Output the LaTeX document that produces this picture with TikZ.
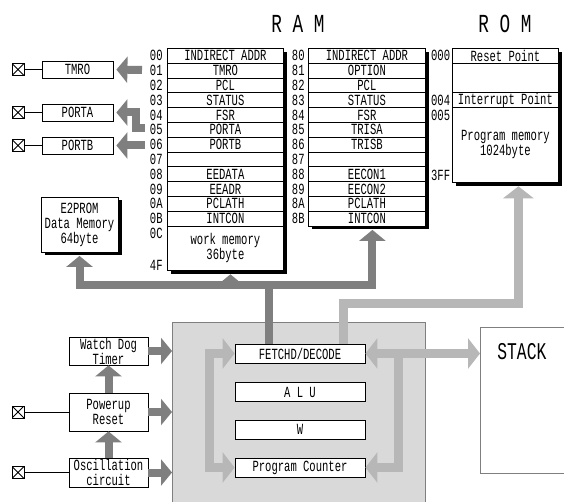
\documentclass[tikz,border=0pt]{standalone}
\usepackage{fontspec}
\setmainfont{Liberation Mono}[FakeStretch=0.68]
\usetikzlibrary{arrows.meta,positioning,shadows}
\definecolor{busgray}{HTML}{7F7F7F}
\definecolor{romgray}{HTML}{B7B7B7}
\definecolor{cpugray}{HTML}{D9D9D9}
\newcommand\regfont{\fontsize{15.5}{15}\selectfont}
\newcommand\titlefont{\fontsize{26}{28}\selectfont}

\begin{document}
\begin{tikzpicture}[
  x=1pt, y=-1pt, line width=0.8pt,
  every node/.style={font=\regfont, inner sep=0pt},
  regrow/.style={draw, fill=white, minimum width=116pt, minimum height=14.8pt, anchor=north west},
  memframe/.style={draw, fill=white, anchor=north west,
    drop shadow={shadow xshift=3.5pt, shadow yshift=-3.5pt, opacity=1, fill=black}},
  adr/.style={anchor=east},
  iobox/.style={draw, fill=white, minimum width=71pt, minimum height=17pt},
  extpin/.style={draw, fill=white, minimum size=12pt,
    path picture={\draw (path picture bounding box.north west) -- (path picture bounding box.south east)
      (path picture bounding box.south west) -- (path picture bounding box.north east);}},
  cpubox/.style={draw, fill=white, minimum width=130pt, minimum height=19pt},
  sidebox/.style={draw, fill=white, minimum width=79pt, align=center},
  dline/.style={draw=busgray, line width=8pt},
  darrow/.style={dline, -{Triangle[width=26pt,length=11pt]}},
  lline/.style={draw=romgray, line width=9pt},
  larrow/.style={lline, -{Triangle[width=30pt,length=12pt]}},
  lboth/.style={lline, {Triangle[width=30pt,length=12pt]}-{Triangle[width=30pt,length=12pt]}}
]
\useasboundingbox[fill=white] (0,0) rectangle (564,502);
\clip (0,0) rectangle (564,502);

\node[font=\titlefont] (ramtitle) at (298,24) {R A M};
\node[font=\titlefont] (romtitle) at (505,24) {R O M};

\node[memframe, minimum width=116pt, minimum height=222pt] (ramA) at (167,48) {};
\foreach \adr/\reg [count=\i from 0] in {00/INDIRECT ADDR,01/TMRO,02/PCL,03/STATUS,04/FSR,05/PORTA,06/PORTB,07/{},08/EEDATA,09/EEADR,0A/PCLATH,0B/INTCON}
{
  \node[regrow] (ramA\i) at (167,{48+14.8*\i}) {\reg};
  \node[adr] (adrA\i) at ([xshift=-4pt]ramA\i.west) {\adr};
}
\node[regrow, minimum height=44.4pt, align=center] (workmem) at (167,225.6) {work memory\\36byte};
\node[adr] (adrA12) at (163,233) {0C};
\node[adr] (adrA13) at (163,265) {4F};

\node[memframe, minimum width=117pt, minimum height=177.6pt] (ramB) at (308,48) {};
\foreach \adr/\reg [count=\i from 0] in {80/INDIRECT ADDR,81/OPTION,82/PCL,83/STATUS,84/FSR,85/TRISA,86/TRISB,87/{},88/EECON1,89/EECON2,8A/PCLATH,8B/INTCON}
{
  \node[regrow, minimum width=117pt] (ramB\i) at (308,{48+14.8*\i}) {\reg};
  \node[adr] (adrB\i) at ([xshift=-3pt]ramB\i.west) {\adr};
}

\node[memframe, minimum width=106pt, minimum height=134pt] (rom) at (452,48) {};
\node[regrow, minimum width=106pt] (reset) at (452,48) {Reset Point};
\node[regrow, minimum width=106pt, minimum height=29.6pt] (romgap) at (452,62.8) {};
\node[regrow, minimum width=106pt] (intpt) at (452,92.4) {Interrupt Point};
\node[regrow, minimum width=106pt, minimum height=74.8pt, align=center] (progmem) at (452,107.2) {Program memory\\1024byte};
\node[adr] (adr000) at (450.5,55.4) {000};
\node[adr] (adr004) at (450.5,100) {004};
\node[adr] (adr005) at (450.5,115) {005};
\node[adr] (adr3ff) at (450.5,175) {3FF};

\node[iobox] (tmro) at (77.5,69.5) {TMRO};
\node[iobox] (porta) at (77.5,112.5) {PORTA};
\node[iobox] (portb) at (77.5,145.5) {PORTB};
\node[extpin] (pin1) at (18,69.5) {};
\node[extpin] (pin2) at (18,112.5) {};
\node[extpin] (pin3) at (18,145.5) {};
\draw (pin1) -- (tmro);
\draw (pin2) -- (porta);
\draw (pin3) -- (portb);

\coordinate (tmrosrc) at (142,70);
\coordinate (portasrc) at (145,128.5);
\coordinate (portbsrc) at (145,145.5);
\draw[darrow, shorten >=3pt] (tmrosrc) -- (tmro.east);
\draw[darrow, shorten >=3pt] (portasrc) -- ++(-9,0) |- (porta.east);
\draw[darrow, shorten >=3pt] (portbsrc) -- (portb.east);

\node[memframe, anchor=center, minimum width=77pt, minimum height=55pt, align=center] (e2) at (79.5,224.5)
  {E2PROM\\Data Memory\\64byte};

\node[draw=busgray, fill=cpugray, minimum width=253pt, minimum height=200pt, anchor=north west] (cpu) at (172,322) {};
\node[draw=busgray, fill=white, minimum width=120pt, minimum height=146pt, anchor=north west] (stack) at (480,327) {};
\node[font=\fontsize{24}{26}\selectfont, anchor=west] (stacklbl) at (497,352) {STACK};

\node[cpubox] (fetch) at (300,353.5) {FETCHD/DECODE};
\node[cpubox] (alu) at (300,392) {A L U};
\node[cpubox] (w) at (300,429.5) {W};
\node[cpubox] (pc) at (300,467.5) {Program Counter};

\coordinate (bus) at (269,285);
\draw[dline, line cap=rect] (e2.south |- bus) -- ([xshift=5.5pt]ramB.south |- bus);
\draw[darrow] (e2.south |- bus) -- ([yshift=-3.5pt]e2.south);
\draw[darrow] ([xshift=5pt]ramA.south |- bus) -- ([xshift=5pt,yshift=-3.5pt]ramA.south);
\draw[darrow] ([xshift=5.5pt]ramB.south |- bus) -- ([xshift=5.5pt,yshift=-3.5pt]ramB.south);
\draw[dline] (bus) -- (bus |- fetch.north);

\coordinate (romturn) at (343.5,303.5);
\draw[larrow] (fetch.north -| romturn) -- (romturn) -| ([xshift=13pt,yshift=-3.5pt]rom.south);

\draw[lboth] (fetch.west) -- ++(-25,0) |- (pc.west);
\draw[lboth] (fetch.east) -- (fetch.east -| stack.west);
\coordinate (pcbranch) at ([xshift=33pt]fetch.east);
\draw[larrow] (pcbranch) |- (pc.east);

\node[sidebox, minimum height=28pt] (wdt) at (108.5,351) {Watch Dog\\Timer};
\node[sidebox, minimum height=38pt] (pwr) at (108.5,412) {Powerup\\Reset};
\node[sidebox, minimum height=29pt] (osc) at (108.5,472.5) {Oscillation\\circuit};
\node[extpin] (pin4) at (18,412) {};
\node[extpin] (pin5) at (18,472.5) {};
\draw (pin4) -- (pwr);
\draw (pin5) -- (osc);

\draw[darrow] (osc) -- (pwr);
\draw[darrow] (pwr) -- (wdt);
\draw[darrow] (wdt.east) -- (wdt.east -| cpu.west);
\draw[darrow] (pwr.east) -- (pwr.east -| cpu.west);
\draw[darrow] (osc.east) -- (osc.east -| cpu.west);
\end{tikzpicture}
\end{document}
